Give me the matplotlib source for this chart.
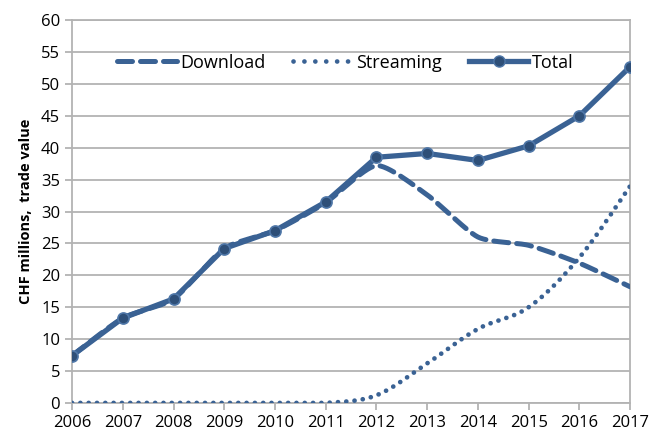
import numpy as np
import matplotlib
matplotlib.use('Agg')
import matplotlib.pyplot as plt
from matplotlib.lines import Line2D

years = list(range(2006, 2018))
download = [7.4, 13.3, 16.3, 24.2, 27.0, 31.4, 37.2, 32.6, 26.0, 24.7, 21.9, 18.2]
streaming = [0, 0, 0, 0, 0, 0, 1.2, 6.2, 11.6, 15.0, 22.8, 34.0]
total = [7.4, 13.3, 16.3, 24.2, 27.0, 31.5, 38.5, 39.1, 38.0, 40.3, 45.0, 52.7]

BLUE = '#3a6294'
GRID = '#b3b3b3'


def smooth(x, y, n=30, k=6):
    # Catmull-Rom style bezier, like Excel's "smoothed line"
    x = np.asarray(x, float); y = np.asarray(y, float)
    xs, ys = [], []
    for i in range(len(x) - 1):
        p0 = (x[max(i - 1, 0)], y[max(i - 1, 0)])
        p1 = (x[i], y[i]); p2 = (x[i + 1], y[i + 1])
        p3 = (x[min(i + 2, len(x) - 1)], y[min(i + 2, len(x) - 1)])
        c1 = (p1[0] + (p2[0] - p0[0]) / k, p1[1] + (p2[1] - p0[1]) / k)
        c2 = (p2[0] - (p3[0] - p1[0]) / k, p2[1] - (p3[1] - p1[1]) / k)
        t = np.linspace(0, 1, n)
        for a, b in ((0, xs), (1, ys)):
            b.extend((1 - t) ** 3 * p1[a] + 3 * (1 - t) ** 2 * t * c1[a]
                     + 3 * (1 - t) * t ** 2 * c2[a] + t ** 3 * p2[a])
    return np.array(xs), np.array(ys)


plt.rcParams['font.family'] = ['Open Sans', 'DejaVu Sans']
fig = plt.figure(figsize=(6.49, 4.37), dpi=100)
ax = fig.add_axes([0.111, 0.078, 0.86, 0.876])

DOT = (0, (0.01, 1.75))
sx, sy = smooth(years, download, k=9)
ax.plot(sx, sy, color=BLUE, lw=3.6, dashes=(3, 1.6), dash_capstyle='round', zorder=3)
sx, sy = smooth(years, streaming)
ax.plot(sx, np.maximum(sy, 0), color=BLUE, lw=3.4, linestyle=DOT,
        dash_capstyle='round', zorder=3)
ax.plot(years, total, color=BLUE, lw=3.8, marker='o', markersize=8,
        markerfacecolor='#2e4f78', markeredgecolor='#4f77a8', markeredgewidth=1.2,
        zorder=4)

ax.set_xlim(2006, 2017)
ax.set_ylim(0, 60)
ax.set_xticks(years)
ax.set_yticks(range(0, 61, 5))
ax.grid(axis='y', color=GRID, lw=1.3)
ax.grid(axis='x', visible=False)
ax.set_axisbelow(True)
for s in ax.spines.values():
    s.set_color(GRID)
    s.set_linewidth(1.3)
ax.tick_params(colors=GRID, labelcolor='black', labelsize=12, length=5, width=1.3)
ax.tick_params(axis='x', pad=4)
ax.set_ylabel('CHF millions,  trade value', fontsize=10.5, fontweight='bold', labelpad=6)

handles = [
    Line2D([], [], color=BLUE, lw=3.6, dashes=(3, 1.6), dash_capstyle='round'),
    Line2D([], [], color=BLUE, lw=3.4, linestyle=(0, (0.01, 2.3)), dash_capstyle='round'),
    Line2D([], [], color=BLUE, lw=3.8, marker='o', markersize=8,
           markerfacecolor='#2e4f78', markeredgecolor='#4f77a8'),
]
ax.legend(handles, ['Download', 'Streaming', 'Total'], loc='upper center',
          bbox_to_anchor=(0.49, 0.955), ncol=3, frameon=False, fontsize=13,
          handlelength=3.3, handletextpad=0.2, columnspacing=1.5)

fig.savefig('out.png', dpi=100)
